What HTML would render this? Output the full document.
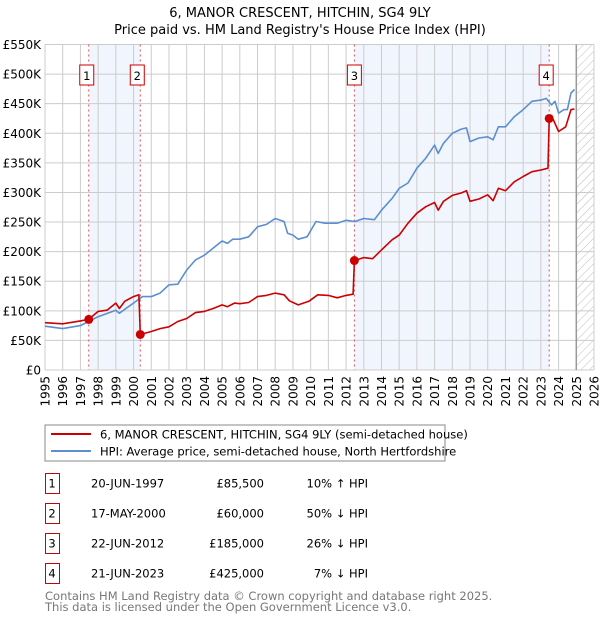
<!DOCTYPE html>
<html><head><meta charset="utf-8"><style>
body{margin:0;background:#fff;font-family:"DejaVu Sans","Liberation Sans",sans-serif}
svg text{font-family:"DejaVu Sans","Liberation Sans",sans-serif}
</style></head><body>
<svg id="c" width="600" height="620" xmlns="http://www.w3.org/2000/svg">
<defs><pattern id="hatch" patternUnits="userSpaceOnUse" width="6" height="6" patternTransform="rotate(45)"><line x1="0" y1="0" x2="0" y2="6" stroke="#bbb" stroke-width="1"/></pattern></defs>
<text x="300" y="17" text-anchor="middle" font-size="13">6, MANOR CRESCENT, HITCHIN, SG4 9LY</text>
<text x="300" y="34" text-anchor="middle" font-size="13">Price paid vs. HM Land Registry's House Price Index (HPI)</text>
<g id="plot"></g>
<g>
<rect x="45" y="425" width="400" height="36" fill="#fff" stroke="#888"/>
<line x1="51" y1="434" x2="91" y2="434" stroke="#cc0000" stroke-width="2"/>
<text x="100" y="438.5" font-size="11.5">6, MANOR CRESCENT, HITCHIN, SG4 9LY (semi-detached house)</text>
<line x1="51" y1="451" x2="91" y2="451" stroke="#5b8fd0" stroke-width="2"/>
<text x="100" y="455.5" font-size="11.5">HPI: Average price, semi-detached house, North Hertfordshire</text>
</g>
<g id="table" font-size="11.5"></g>
<text x="45" y="600" font-size="11.5" fill="#777">Contains HM Land Registry data © Crown copyright and database right 2025.</text>
<text x="45" y="611" font-size="11.5" fill="#777">This data is licensed under the Open Government Licence v3.0.</text>
</svg>
<script>
const hpiYears=[1995,1996,1997,1998,1999,1999.2,2000,2000.5,2001,2001.5,2002,2002.5,2003,2003.5,2004,2004.5,2005,2005.3,2005.6,2006,2006.5,2007,2007.5,2008,2008.5,2008.7,2009,2009.3,2009.8,2010.3,2010.8,2011.5,2012,2012.5,2013,2013.6,2014,2014.6,2015,2015.5,2016,2016.5,2017,2017.2,2017.5,2018,2018.5,2018.8,2019,2019.5,2020,2020.3,2020.6,2021,2021.5,2022,2022.5,2023,2023.3,2023.6,2023.8,2024,2024.3,2024.5,2024.7,2024.9];
const hpiValues=[74,70,75,90,101,96,113,124,124,130,144,145,169,186,194,206,218,214,221,221,225,242,246,256,251,231,228,221,225,251,248,248,253,251,256,254,270,290,307,316,341,358,380,366,383,400,407,409,386,392,394,389,411,411,428,440,454,456,459,448,454,434,440,440,468,474];
const ppYears=[1995,1996,1997,1997.47,1998,1998.5,1999,1999.2,1999.5,2000,2000.3,2000.38,2001,2001.5,2002,2002.5,2003,2003.5,2004,2004.5,2005,2005.3,2005.7,2006,2006.5,2007,2007.5,2008,2008.5,2008.8,2009.3,2009.9,2010.4,2011,2011.5,2012,2012.4,2012.47,2013,2013.5,2014,2014.6,2015,2015.5,2016,2016.5,2017,2017.2,2017.5,2018,2018.5,2018.8,2019,2019.5,2020,2020.3,2020.6,2021,2021.5,2022,2022.5,2023,2023.4,2023.47,2023.7,2024,2024.4,2024.7,2024.9];
const ppValues=[80,78,83,85.5,99,101,113,104,116,124,127,60,65,70,73,82,87,97,99,104,110,107,113,112,114,124,126,130,127,117,110,116,127,126,122,126,128,185,190,188,203,220,228,248,265,276,283,270,285,295,299,303,285,289,296,286,307,303,318,327,335,338,341,425,423,403,411,440,441];
const saleYears=[1997.47,2000.38,2012.47,2023.47];
const saleValues=[85.5,60,185,425];
const saleLabels=["1","2","3","4"];
const saleDates=["20-JUN-1997","17-MAY-2000","22-JUN-2012","21-JUN-2023"];
const salePrices=["£85,500","£60,000","£185,000","£425,000"];
const saleDiffs=["10% ↑ HPI","50% ↓ HPI","26% ↓ HPI","7% ↓ HPI"];
const yTicks=[0,50,100,150,200,250,300,350,400,450,500,550];
const yTickLabels=["£0","£50K","£100K","£150K","£200K","£250K","£300K","£350K","£400K","£450K","£500K","£550K"];
const xTicks=[1995,1996,1997,1998,1999,2000,2001,2002,2003,2004,2005,2006,2007,2008,2009,2010,2011,2012,2013,2014,2015,2016,2017,2018,2019,2020,2021,2022,2023,2024,2025,2026];

const L=45,R=594,T=44.5,B=370,x0=1995,x1=2026,yMax=550;
const X=v=>L+(v-x0)/(x1-x0)*(R-L);
const Y=v=>B-v/yMax*(B-T);
const NS="http://www.w3.org/2000/svg";
function mk(p,tag,attrs){const e=document.createElementNS(NS,tag);for(const k in attrs)e.setAttribute(k,attrs[k]);p.appendChild(e);return e;}
const g=document.getElementById('plot');
// shaded regions
for(let i=0;i<saleYears.length;i+=2){
  const r=mk(g,'rect',{x:X(saleYears[i]),y:T,width:X(saleYears[i+1])-X(saleYears[i]),height:B-T,fill:'#eef3fc',opacity:0.8});
  
  
}
// hatch future
const hr=mk(g,'rect',{x:X(2025),y:T,width:R-X(2025),height:B-T,fill:'url(#hatch)'});


// grid
xTicks.forEach(t=>{
  const l=mk(g,'line',{x1:X(t),x2:X(t),y1:T,y2:B,stroke:'#ccc','stroke-width':1});
  
  
  const tx=mk(g,'text',{x:0,y:0,'font-size':12,'text-anchor':'end',transform:`translate(${X(t)+4.5},${B+6}) rotate(-90)`});
  tx.textContent=t;
  
  
});
yTicks.forEach((t,i)=>{
  const l=mk(g,'line',{x1:L,x2:R,y1:Y(t),y2:Y(t),stroke:'#ccc','stroke-width':1});
  
  
  const tx=mk(g,'text',{x:L-4,y:Y(t)+4.5,'font-size':12,'text-anchor':'end'});
  tx.textContent=yTickLabels[i];
  
  
});
const nl=mk(g,'line',{x1:X(2025),x2:X(2025),y1:T,y2:B,stroke:'#999','stroke-width':1.5});


// sale markers lines & boxes
saleYears.forEach((s,i)=>{
  const l=mk(g,'line',{x1:X(s),x2:X(s),y1:T,y2:B,stroke:'#e05050','stroke-width':1,'stroke-dasharray':'2,3'});
  
  
  const bx=X(s)-(i==0?3:2)-14+(i==0?6:0);
  const b=mk(g,'rect',{x:X(s)-(i<2?7:7)-(i==1||i==3?3:0)+(i==0?-2:0),y:65,width:14,height:20,fill:'#fff',stroke:'#cc0000'});
  
  
  const t=mk(g,'text',{x:+b.getAttribute('x')+7,y:80,'font-size':11.5,'text-anchor':'middle'});
  t.textContent=saleLabels[i];
  
  
});
function path(xs,ys,color,name){
  const d=xs.map((v,i)=>(i?'L':'M')+X(v).toFixed(1)+','+Y(ys[i]).toFixed(1)).join(' ');
  const p=mk(g,'path',{d:d,fill:'none',stroke:color,'stroke-width':1.6,'stroke-linejoin':'round'});
  
  
}
path(hpiYears,hpiValues,'#5b8fd0','hpi-line');
path(ppYears,ppValues,'#cc0000','price-paid-line');
saleYears.forEach((s,i)=>{
  const c=mk(g,'circle',{cx:X(s),cy:Y(saleValues[i]),r:4.5,fill:'#cc0000'});
  
  
});
// table
const tb=document.getElementById('table');
saleLabels.forEach((lab,i)=>{
  const cy=483+i*30;
  const b=mk(tb,'rect',{x:45.5,y:cy-9.5,width:14,height:20,fill:'#fff',stroke:'#cc0000'});
  
  
  const cells=[[52,lab,'middle'],[91,saleDates[i],'start'],[264,salePrices[i],'end'],[368,saleDiffs[i],'end']];
  const names=['table-row-number','table-row-date','table-row-price','table-row-hpi-diff'];
  cells.forEach((c,j)=>{
    const t=mk(tb,'text',{x:c[0],y:cy+4.5,'text-anchor':c[2]});
    t.textContent=c[1];
    
    
  });
});
</script>
</body></html>
